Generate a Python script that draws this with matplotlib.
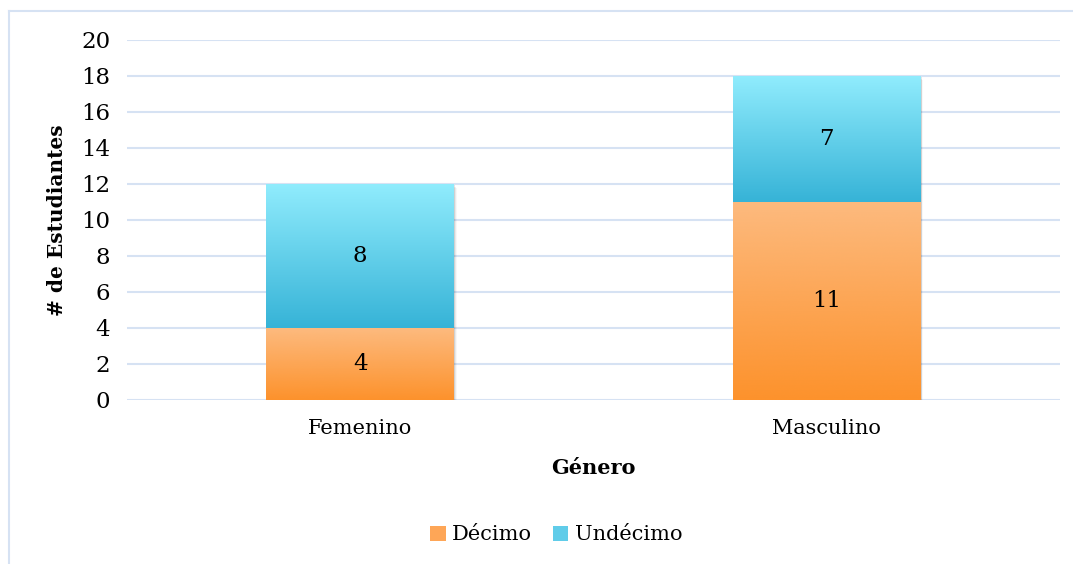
import matplotlib.pyplot as plt
import matplotlib.transforms as mtransforms
from matplotlib.colors import LinearSegmentedColormap
from matplotlib.patches import Rectangle
from matplotlib.lines import Line2D
import numpy as np

# Data
generos = ['Femenino', 'Masculino']
decimo = [4, 11]
undecimo = [8, 7]
series_names = ['Décimo', 'Undécimo']
yticks = list(range(0, 21, 2))

# Gradient colours (top -> bottom)
orange_top, orange_bot = '#FDBA7E', '#FD922C'
blue_top, blue_bot = '#90ECFD', '#36B3D7'
grid_color = '#D6E2F3'

plt.rcParams['font.family'] = ['DejaVu Serif']

fig = plt.figure(figsize=(10.73, 5.64), dpi=100)
ax = fig.add_axes([127 / 1073, 1 - 400 / 564, (1060 - 127) / 1073, 360 / 564])

bar_w = 0.403
x = np.arange(len(generos))


def grad_bar(ax, xc, bottom, height, top_c, bot_c):
    cmap = LinearSegmentedColormap.from_list('g', [bot_c, top_c])
    grad = np.linspace(0, 1, 256).reshape(-1, 1)
    ax.imshow(grad, cmap=cmap, origin='lower', aspect='auto',
              extent=[xc - bar_w / 2, xc + bar_w / 2, bottom, bottom + height],
              zorder=3, interpolation='bicubic')


# soft shadows
for xc, d, u in zip(x, decimo, undecimo):
    for k, a in zip([1, 2, 3], [0.10, 0.06, 0.03]):
        off = mtransforms.offset_copy(ax.transData, fig=fig, x=k * 0.6, y=-k * 0.9, units='points')
        ax.add_patch(Rectangle((xc - bar_w / 2, 0), bar_w, d + u, transform=off,
                               facecolor='#000000', alpha=a, edgecolor='none', zorder=2.5))

for xc, d, u in zip(x, decimo, undecimo):
    grad_bar(ax, xc, 0, d, orange_top, orange_bot)
    grad_bar(ax, xc, d, u, blue_top, blue_bot)
    ax.text(xc, d / 2, str(d), ha='center', va='center', fontsize=16.5, zorder=5)
    ax.text(xc, d + u / 2, str(u), ha='center', va='center', fontsize=16.5, zorder=5)

ax.set_xlim(-0.5, 1.5)
ax.set_ylim(0, 20)
ax.set_yticks(yticks)
ax.set_xticks(x)
ax.set_xticklabels(generos)
ax.tick_params(axis='both', length=0)
ax.tick_params(axis='y', pad=12, labelsize=16.5)
ax.tick_params(axis='x', pad=14, labelsize=15)
ax.yaxis.grid(True, color=grid_color, linewidth=1.5, zorder=0)
ax.set_axisbelow(True)
for s in ax.spines.values():
    s.set_visible(False)

ax.set_ylabel('# de Estudiantes', fontsize=14.5, fontweight='bold', labelpad=10)
ax.set_xlabel('Género', fontsize=15, fontweight='bold', labelpad=14)

handles = [Rectangle((0, 0), 1, 1, facecolor='#FEA657'),
           Rectangle((0, 0), 1, 1, facecolor='#60CCE9')]
fig.legend(handles, series_names, loc='center', bbox_to_anchor=(556 / 1073, 1 - 535 / 564),
           ncol=2, frameon=False, fontsize=15, handlelength=0.75, handleheight=0.75,
           handletextpad=0.3, columnspacing=1.0)

# outer chart frame (left and top edges visible)
fig.add_artist(Line2D([9 / 1073, 9 / 1073], [0, 1 - 11 / 564], transform=fig.transFigure,
                      color=grid_color, linewidth=1.5))
fig.add_artist(Line2D([9 / 1073, 1], [1 - 11 / 564, 1 - 11 / 564], transform=fig.transFigure,
                      color=grid_color, linewidth=1.5))

fig.savefig('out.png', dpi=100)
